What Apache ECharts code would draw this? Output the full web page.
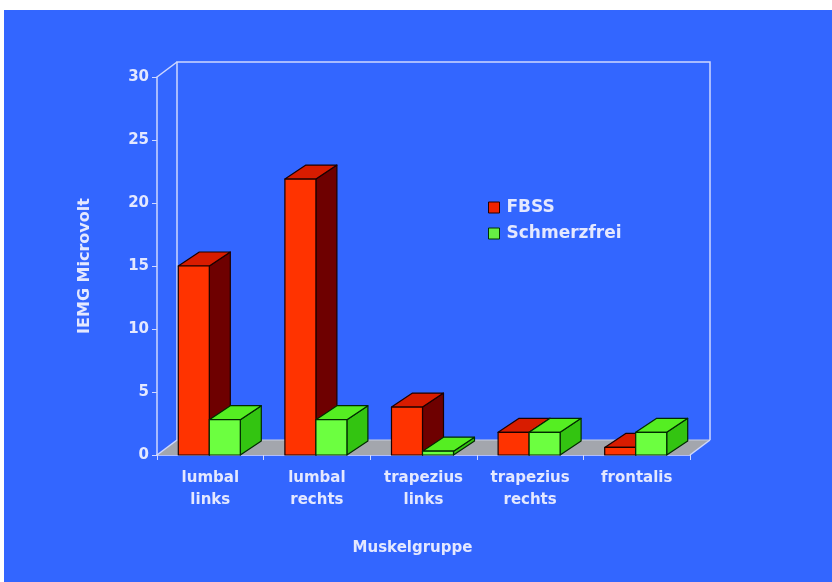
<!DOCTYPE html>
<html>
<head>
<meta charset="utf-8">
<script src="https://cdn.jsdelivr.net/npm/echarts@6/dist/echarts.min.js"></script>
<style>
  html, body { margin: 0; padding: 0; background: #ffffff; width: 832px; height: 582px; overflow: hidden; }
  #chart { position: absolute; left: 4px; top: 10px; width: 828px; height: 572px; }
</style>
</head>
<body>
<div id="chart"></div>
<script>
// Muscle groups and mean IEMG amplitudes (microvolt)
var categories = ['lumbal\nlinks', 'lumbal\nrechts', 'trapezius\nlinks', 'trapezius\nrechts', 'frontalis'];
var fbss = [15, 21.9, 3.8, 1.8, 0.6];
var schmerzfrei = [2.8, 2.8, 0.3, 1.8, 1.8];
var yTicks = [0, 5, 10, 15, 20, 25, 30];

var FONT = 'DejaVu Sans';
var TEXT = '#e4e8ff';
var LINE = '#cfd8ff';

// depth of the wall/floor box and of each bar
var WALL_DX = 20, WALL_DY = -15;
var BAR_DX = 21, BAR_DY = -14;
var BAR_W = 31;

function frameItem(params, api) {
  var cs = params.coordSys;
  var x0 = cs.x, x1 = cs.x + cs.width, yT = cs.y, yB = cs.y + cs.height;
  var lineStyle = { stroke: LINE, lineWidth: 1.5, fill: null };
  return {
    type: 'group',
    children: [
      { type: 'polygon', shape: { points: [[x0, yB], [x0 + WALL_DX, yB + WALL_DY], [x1 + WALL_DX, yB + WALL_DY], [x1, yB]] },
        style: { fill: '#a3a6ad', stroke: null } },
      { type: 'polyline', shape: { points: [[x0 + WALL_DX, yB + WALL_DY], [x0 + WALL_DX, yT + WALL_DY], [x1 + WALL_DX, yT + WALL_DY], [x1 + WALL_DX, yB + WALL_DY]] },
        style: lineStyle },
      { type: 'line', shape: { x1: x0 + WALL_DX, y1: yB + WALL_DY, x2: x1 + WALL_DX, y2: yB + WALL_DY }, style: { stroke: '#c8cde0', lineWidth: 1 } },
      { type: 'line', shape: { x1: x0, y1: yT, x2: x0 + WALL_DX, y2: yT + WALL_DY }, style: lineStyle },
      { type: 'line', shape: { x1: x0, y1: yB, x2: x0 + WALL_DX, y2: yB + WALL_DY }, style: lineStyle },
      { type: 'line', shape: { x1: x1, y1: yB, x2: x1 + WALL_DX, y2: yB + WALL_DY }, style: lineStyle }
    ]
  };
}

function makeBarRenderer(offset, front, top, side, edge) {
  return function (params, api) {
    var idx = api.value(0);
    var val = api.value(1);
    var pTop = api.coord([idx, val]);
    var pBase = api.coord([idx, 0]);
    var xL = pTop[0] + offset, xR = xL + BAR_W;
    var yT = pTop[1], yB = pBase[1];
    var st = function (f) { return { fill: f, stroke: edge, lineWidth: 1.2, lineJoin: 'round' }; };
    return {
      type: 'group',
      children: [
        { type: 'polygon', shape: { points: [[xR, yT], [xR + BAR_DX, yT + BAR_DY], [xR + BAR_DX, yB + BAR_DY], [xR, yB]] }, style: st(side) },
        { type: 'polygon', shape: { points: [[xL, yT], [xR, yT], [xR + BAR_DX, yT + BAR_DY], [xL + BAR_DX, yT + BAR_DY]] }, style: st(top) },
        { type: 'rect', shape: { x: xL, y: yT, width: BAR_W, height: yB - yT }, style: st(front) }
      ]
    };
  };
}

function toData(arr) { return arr.map(function (v, i) { return [i, v]; }); }

var chart = echarts.init(document.getElementById('chart'));
chart.setOption({
  backgroundColor: '#3366ff',
  animation: false,
  grid: { left: 153, right: 142, top: 67, bottom: 127 },
  legend: {
    orient: 'vertical',
    left: 479,
    top: 184,
    itemWidth: 11,
    itemHeight: 11,
    itemGap: 9,
    icon: 'rect',
    textStyle: { color: TEXT, fontFamily: FONT, fontWeight: 'bold', fontSize: 17, padding: [0, 0, 0, 2] },
    data: [
      { name: 'FBSS', itemStyle: { color: '#ee2200', borderColor: '#220000', borderWidth: 1 } },
      { name: 'Schmerzfrei', itemStyle: { color: '#66ee44', borderColor: '#003300', borderWidth: 1 } }
    ]
  },
  xAxis: {
    type: 'category',
    data: categories,
    boundaryGap: true,
    name: 'Muskelgruppe',
    nameLocation: 'middle',
    nameGap: 86,
    nameTextStyle: { color: TEXT, fontFamily: FONT, fontWeight: 'bold', fontSize: 15, padding: [0, 22, 0, 0] },
    axisLine: { show: true, lineStyle: { color: '#dcdcff', width: 1.5 } },
    axisTick: { show: true, interval: 0, length: 5, lineStyle: { color: LINE } },
    axisLabel: { color: TEXT, fontFamily: FONT, fontWeight: 'bold', fontSize: 15, lineHeight: 22, margin: 12, interval: 0 }
  },
  yAxis: {
    type: 'value',
    min: yTicks[0],
    max: yTicks[yTicks.length - 1],
    interval: yTicks[1] - yTicks[0],
    name: 'IEMG Microvolt',
    nameLocation: 'middle',
    nameRotate: 90,
    nameGap: 64,
    nameTextStyle: { color: TEXT, fontFamily: FONT, fontWeight: 'bold', fontSize: 16 },
    axisLine: { show: true, lineStyle: { color: LINE, width: 1.5 } },
    axisTick: { show: true, length: 5, lineStyle: { color: LINE } },
    splitLine: { show: false },
    axisLabel: { color: TEXT, fontFamily: FONT, fontWeight: 'bold', fontSize: 15, margin: 8 }
  },
  series: [
    {
      type: 'custom',
      name: 'frame',
      silent: true,
      z: 1,
      renderItem: frameItem,
      data: [[0, 0]]
    },
    {
      type: 'custom',
      name: 'FBSS',
      z: 2,
      itemStyle: { color: '#ee2200' },
      renderItem: makeBarRenderer(-32, '#ff3300', '#d81c00', '#6e0000', '#1a0000'),
      data: toData(fbss)
    },
    {
      type: 'custom',
      name: 'Schmerzfrei',
      z: 3,
      itemStyle: { color: '#66ee44' },
      renderItem: makeBarRenderer(-1, '#6cff40', '#55ee22', '#33c411', '#002a00'),
      data: toData(schmerzfrei)
    }
  ]
});
</script>
</body>
</html>
